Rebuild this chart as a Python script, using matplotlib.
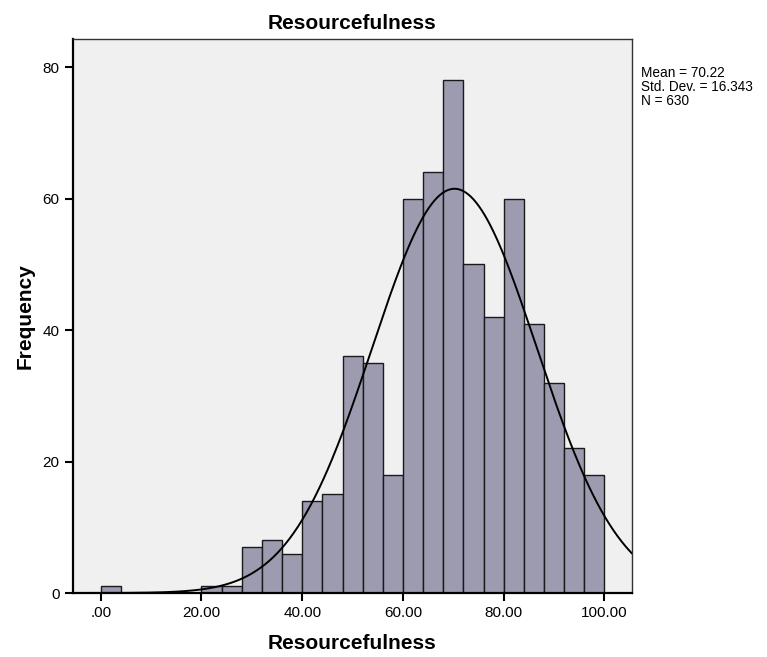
import matplotlib
matplotlib.use("Agg")
import matplotlib.pyplot as plt
import numpy as np

plt.rcParams['font.family'] = ['Liberation Sans', 'DejaVu Sans']

# histogram bins (width 4, from 0 to 100) and counts
bin_edges = [0, 4, 8, 12, 16, 20, 24, 28, 32, 36, 40, 44, 48, 52, 56, 60, 64, 68, 72, 76, 80, 84, 88, 92, 96, 100]
counts = [1, 0, 0, 0, 0, 1, 1, 7, 8, 6, 14, 15, 36, 35, 18, 60, 64, 78, 50, 42, 60, 41, 32, 22, 18]

mean = 70.22
std_dev = 16.343
n_total = 630

x_ticks = [0, 20, 40, 60, 80, 100]
x_tick_labels = [".00", "20.00", "40.00", "60.00", "80.00", "100.00"]
y_ticks = [0, 20, 40, 60, 80]

fig = plt.figure(figsize=(7.67, 6.57), dpi=100)
ax = fig.add_axes([0.0948, 0.0974, 0.7288, 0.8432])
ax.set_facecolor("#f0f0f0")

lefts = np.array(bin_edges[:-1])
widths = np.diff(bin_edges)
ax.bar(lefts, counts, width=widths, align="edge", color="#9c9bb0",
       edgecolor="#1a1a1a", linewidth=1.0, zorder=2)

# normal curve scaled to the histogram
xlim = (-5.56, 105.4)
xs = np.linspace(xlim[0], xlim[1], 400)
bw = widths[0]
ys = n_total * bw / (std_dev * np.sqrt(2 * np.pi)) * np.exp(-0.5 * ((xs - mean) / std_dev) ** 2)
ax.plot(xs, ys, color="black", linewidth=1.4, zorder=3)

ax.set_xlim(*xlim)
ax.set_ylim(0, 84.3)
ax.set_xticks(x_ticks)
ax.set_xticklabels(x_tick_labels)
ax.set_yticks(y_ticks)
ax.tick_params(axis="both", direction="out", length=6, width=1.5, labelsize=11, colors="black")

for side in ["left", "bottom"]:
    ax.spines[side].set_linewidth(1.6)
    ax.spines[side].set_color("black")
for side in ["top", "right"]:
    ax.spines[side].set_linewidth(1.0)
    ax.spines[side].set_color("#333333")

ax.set_title("Resourcefulness", fontsize=15, fontweight="bold", pad=7)
ax.set_xlabel("Resourcefulness", fontsize=15, fontweight="bold", labelpad=10)
ax.set_ylabel("Frequency", fontsize=15, fontweight="bold", labelpad=6)

fig.text(641 / 767, 1 - 66 / 657, "Mean = %.2f\nStd. Dev. = %.3f\nN = %d" % (mean, std_dev, n_total),
         fontsize=9.8, va="top", ha="left", linespacing=1.02)

fig.savefig("out.png", dpi=100)
